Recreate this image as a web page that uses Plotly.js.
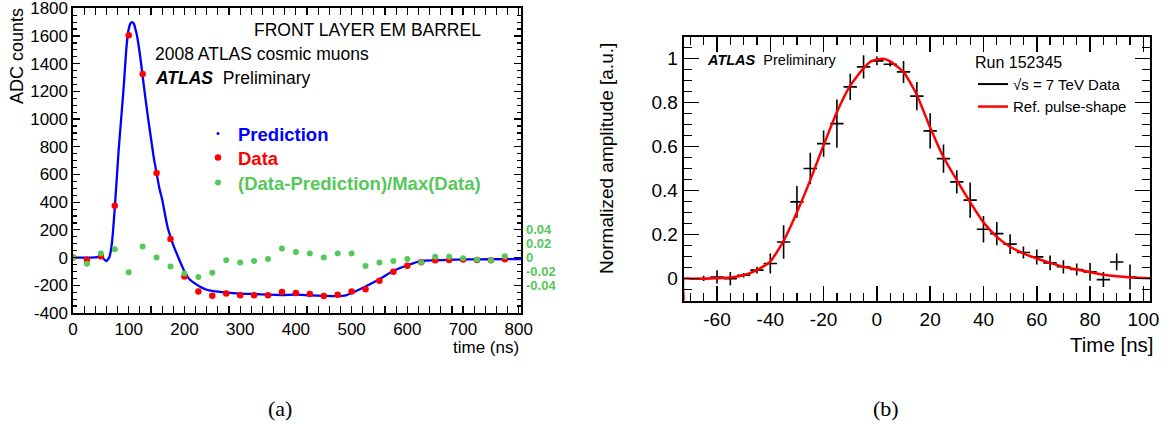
<!DOCTYPE html>
<html>
<head>
<meta charset="utf-8">
<script src="https://cdn.plot.ly/plotly-3.0.1.min.js"></script>
<style>html,body{margin:0;padding:0;background:#fff;}#plot{width:1168px;height:425px;}</style>
</head>
<body>
<div id="plot"></div>
<script>
// ---------- Panel (a): 2008 cosmic muons, front layer EM barrel ----------
const predTime = [0,10,20,30,40,45,50,55,58,60,62,65,67,70,72,75,78,80,82,85,88,90,92,95,98,100,103,106,109,112,115,120,125,130,135,140,145,150,155,160,165,170,175,180,185,190,195,200,210,220,230,240,250,275,300,325,350,375,400,425,450,475,490,500,510,525,550,575,600,625,650,675,700,750,804];
const predADC  = [0,0,0,0,2,3,3,-8,-20,-25,-18,0,30,110,200,360,540,660,780,930,1080,1180,1290,1470,1600,1650,1690,1700,1690,1650,1600,1470,1310,1150,1000,860,720,611,500,420,315,215,150,90,40,-8,-55,-100,-160,-190,-215,-232,-241,-253,-260,-263,-268,-270,-267,-272,-276,-278,-272,-255,-238,-209,-157,-95,-55,-23,-19,-17,-13,-12,-10];

const dataTime = [0,25,50,75,100,125,150,175,200,225,250,275,300,325,350,375,400,425,450,475,500,525,550,575,600,625,650,675,700,725,750,775];
const dataADC  = [0,-15,10,375,1605,1326,611,134,-137,-245,-276,-259,-271,-271,-271,-249,-255,-262,-278,-269,-245,-228,-168,-103,-58,-34,-19,-17,-14,-17,-19,-12];
const ratioVal = [0,-0.009,0.006,0.012,-0.021,0.016,0,-0.013,-0.023,-0.028,-0.022,-0.004,-0.007,-0.005,-0.002,0.013,0.008,0.006,0,0.006,0.006,-0.012,-0.007,-0.005,-0.002,-0.007,0.0014,0.0014,-0.001,-0.003,-0.004,0.002];

const aXTicks = [0,100,200,300,400,500,600,700,800];
const aXText  = ['0','100','200','300','400','500','600','700','800'];
const aYTicks = [-400,-200,0,200,400,600,800,1000,1200,1400,1600,1800];
const aYText  = ['-400','-200','0','200','400','600','800','1000','1200','1400','1600','1800'];
const ratioTicks = [-0.04,-0.02,0,0.02,0.04];
const ratioText  = ['-0.04','-0.02','0','0.02','0.04'];

// ---------- Panel (b): 7 TeV pulse shape ----------
const refTime = [-72.5,-72.5,-70,-65,-60,-55,-50,-45,-40,-35,-30,-25,-20,-15,-10,-5,-2.5,0,2.5,5,10,15,20,25,30,35,40,45,50,55,60,65,70,75,80,85,90,95,100,102.5];
const refAmp  = [-0.1,0,0,0,0.002,0.005,0.016,0.039,0.078,0.172,0.302,0.448,0.607,0.758,0.878,0.957,0.985,0.996,1.0,0.988,0.94,0.835,0.687,0.552,0.448,0.348,0.256,0.19,0.145,0.115,0.092,0.072,0.054,0.042,0.03,0.018,0.011,0.006,0.003,0.002];

const runTime = [-65,-60,-55,-50,-45,-40,-35,-30,-25,-20,-15,-10,-5,0,5,10,15,20,25,30,35,40,45,50,55,60,65,70,75,80,85,90,95];
const runAmp  = [0.001,0.008,0.0,0.016,0.039,0.069,0.167,0.349,0.501,0.614,0.705,0.872,0.963,0.99,0.975,0.94,0.83,0.672,0.546,0.44,0.357,0.225,0.205,0.157,0.119,0.099,0.072,0.054,0.042,0.031,-0.004,0.076,0.008];
const runErr  = [0.012,0.03,0.03,0.01,0.015,0.045,0.076,0.072,0.072,0.06,0.11,0.06,0.053,0.02,0.01,0.05,0.064,0.08,0.064,0.053,0.08,0.06,0.053,0.045,0.027,0.034,0.034,0.03,0.027,0.04,0.034,0.038,0.057];

const bXTicks = [-60,-40,-20,0,20,40,60,80,100];
const bXText  = ['-60','-40','-20','0','20','40','60','80','100'];
const bYTicks = [0,0.2,0.4,0.6,0.8,1];
const bYText  = ['0','0.2','0.4','0.6','0.8','1'];

const BLUE = '#0000ff', RED = '#ff0000', GREEN = '#55c85a';
const SANS = 'Liberation Sans, Arial, sans-serif';

const traces = [
  {x: predTime, y: predADC, mode: 'lines', line: {color: BLUE, width: 2.3, shape: 'spline', smoothing: 0.6},
   xaxis: 'x', yaxis: 'y', showlegend: false, hoverinfo: 'skip'},
  {x: [null], y: [null], mode: 'markers', marker: {color: BLUE, size: 3},
   name: 'Prediction', xaxis: 'x', yaxis: 'y', legend: 'legend'},
  {x: dataTime, y: dataADC, mode: 'markers', marker: {color: RED, size: 6.5},
   name: 'Data', xaxis: 'x', yaxis: 'y', legend: 'legend3'},
  {x: dataTime, y: ratioVal, mode: 'markers', marker: {color: GREEN, size: 6},
   name: '(Data-Prediction)/Max(Data)', xaxis: 'x', yaxis: 'y2', legend: 'legend4'},

  {x: runTime, y: runAmp, mode: 'markers', marker: {size: 0.1, color: 'black'},
   error_y: {type: 'data', array: runErr, visible: true, color: 'black', thickness: 1.6, width: 0},
   error_x: {type: 'constant', value: 2.5, visible: true, color: 'black', thickness: 1.6, width: 0},
   xaxis: 'x2', yaxis: 'y3', showlegend: false, hoverinfo: 'skip'},
  {x: [null], y: [null], mode: 'lines', line: {color: 'black', width: 2},
   name: '√s = 7 TeV Data', xaxis: 'x2', yaxis: 'y3', legend: 'legend2'},
  {x: refTime, y: refAmp, mode: 'lines', line: {color: RED, width: 2.5, shape: 'spline', smoothing: 0.5},
   name: 'Ref. pulse-shape', xaxis: 'x2', yaxis: 'y3', legend: 'legend2'}
];

function ax(extra) {
  return Object.assign({
    showline: true, linecolor: 'black', mirror: 'allticks', ticks: 'inside',
    tickcolor: 'black', showgrid: false, zeroline: false, tickmode: 'array',
    ticklabeloverflow: 'allow',
    tickfont: {family: SANS, size: 17, color: 'black'}
  }, extra);
}
const H = 425, W = 1168;
function leg(xpx, ypx, color) {
  return {x: xpx/W, y: 1-ypx/H, xanchor: 'left', yanchor: 'middle', bgcolor: 'rgba(0,0,0,0)',
    font: {family: SANS, size: 18.5, weight: 'bold', color: color}, borderwidth: 0};
}

const layout = {
  width: W, height: H, margin: {l: 0, r: 0, t: 0, b: 0},
  paper_bgcolor: 'white', plot_bgcolor: 'white', showlegend: true,
  xaxis: ax({domain: [73/W, 521/W], range: [0, 804], anchor: 'y', linewidth: 1.6,
    tickvals: aXTicks, ticktext: aXText, ticklen: 7, tickwidth: 1.2,
    minor: {ticks: 'inside', ticklen: 4, tickmode: 'linear', tick0: 0, dtick: 20, tickcolor: 'black'}}),
  yaxis: ax({domain: [1-313/H, 1-8/H], range: [-400, 1802], anchor: 'x', linewidth: 1.6,
    tickvals: aYTicks, ticktext: aYText, ticklen: 7, tickwidth: 1.2, ticklabelshift: 3.5,
    minor: {ticks: 'inside', ticklen: 4, tickmode: 'linear', tick0: 0, dtick: 50, tickcolor: 'black'}}),
  yaxis2: {overlaying: 'y', anchor: 'x', side: 'right', range: [-0.08, 0.3604], showline: false,
    showgrid: false, zeroline: false, ticks: '', tickmode: 'array', tickvals: ratioTicks, ticktext: ratioText,
    ticklabelstandoff: 4,
    tickfont: {family: SANS, size: 13, color: GREEN, weight: 'bold'}},
  xaxis2: ax({domain: [683.7/W, 1150/W], range: [-72.5, 102.5], anchor: 'y3', linewidth: 2,
    tickvals: bXTicks, ticktext: bXText, ticklen: 15, tickwidth: 1.5,
    tickfont: {family: SANS, size: 19, color: 'black'},
    minor: {ticks: 'inside', ticklen: 8, tickmode: 'linear', tick0: 0, dtick: 5, tickcolor: 'black', tickwidth: 1.2}}),
  yaxis3: ax({domain: [1-300.7/H, 1-36.7/H], range: [-0.1, 1.1], anchor: 'x2', linewidth: 2,
    tickvals: bYTicks, ticktext: bYText, ticklen: 15, tickwidth: 1.5,
    tickfont: {family: SANS, size: 19, color: 'black'},
    minor: {ticks: 'inside', ticklen: 8, tickmode: 'linear', tick0: 0, dtick: 0.05, tickcolor: 'black', tickwidth: 1.2}}),
  legend: leg(198, 134, BLUE),
  legend3: leg(198, 158, RED),
  legend4: leg(198, 183, GREEN),
  legend2: {x: 973/W, y: 1-47/H, xanchor: 'left', yanchor: 'top', bgcolor: 'rgba(0,0,0,0)',
    font: {family: SANS, size: 15, color: 'black'}, borderwidth: 0,
    title: {text: 'Run 152345', font: {family: SANS, size: 16, color: 'black'}}},
  annotations: [
    {xref: 'paper', yref: 'paper', x: 483/W, y: 1-30/H, xanchor: 'right', yanchor: 'middle', showarrow: false,
     text: 'FRONT LAYER EM BARREL', font: {family: SANS, size: 17.5, color: 'black'}},
    {xref: 'paper', yref: 'paper', x: 153/W, y: 1-54/H, xanchor: 'left', yanchor: 'middle', showarrow: false,
     text: '2008 ATLAS cosmic muons', font: {family: SANS, size: 17.5, color: 'black'}},
    {xref: 'paper', yref: 'paper', x: 153/W, y: 1-78/H, xanchor: 'left', yanchor: 'middle', showarrow: false,
     text: '<b><i>ATLAS</i></b>  Preliminary', font: {family: SANS, size: 17.5, color: 'black'}},
    {xref: 'paper', yref: 'paper', x: 17/W, y: 1-56/H, xanchor: 'center', yanchor: 'middle', showarrow: false,
     textangle: -90, text: 'ADC counts', font: {family: SANS, size: 18, color: 'black'}},
    {xref: 'paper', yref: 'paper', x: 521/W, y: 1-347/H, xanchor: 'right', yanchor: 'middle', showarrow: false,
     text: 'time (ns)', font: {family: SANS, size: 17, color: 'black'}},
    {xref: 'paper', yref: 'paper', x: 705/W, y: 1-60/H, xanchor: 'left', yanchor: 'middle', showarrow: false,
     text: '<b><i>ATLAS</i></b>  Preliminary', font: {family: SANS, size: 14.5, color: 'black'}},
    {xref: 'paper', yref: 'paper', x: 606/W, y: 1-159/H, xanchor: 'center', yanchor: 'middle', showarrow: false,
     textangle: -90, text: 'Normalized amplitude [a.u.]', font: {family: SANS, size: 19, color: 'black'}},
    {xref: 'paper', yref: 'paper', x: 1156/W, y: 1-344/H, xanchor: 'right', yanchor: 'middle', showarrow: false,
     text: 'Time [ns]', font: {family: SANS, size: 20.5, color: 'black'}},
    {xref: 'paper', yref: 'paper', x: 280/W, y: 1-408/H, xanchor: 'center', yanchor: 'middle', showarrow: false,
     text: '(a)', font: {family: 'Liberation Serif, DejaVu Serif, serif', size: 22, color: 'black'}},
    {xref: 'paper', yref: 'paper', x: 886/W, y: 1-408/H, xanchor: 'center', yanchor: 'middle', showarrow: false,
     text: '(b)', font: {family: 'Liberation Serif, DejaVu Serif, serif', size: 22, color: 'black'}}
  ]
};

Plotly.newPlot('plot', traces, layout, {staticPlot: true, displayModeBar: false});
</script>
</body>
</html>
